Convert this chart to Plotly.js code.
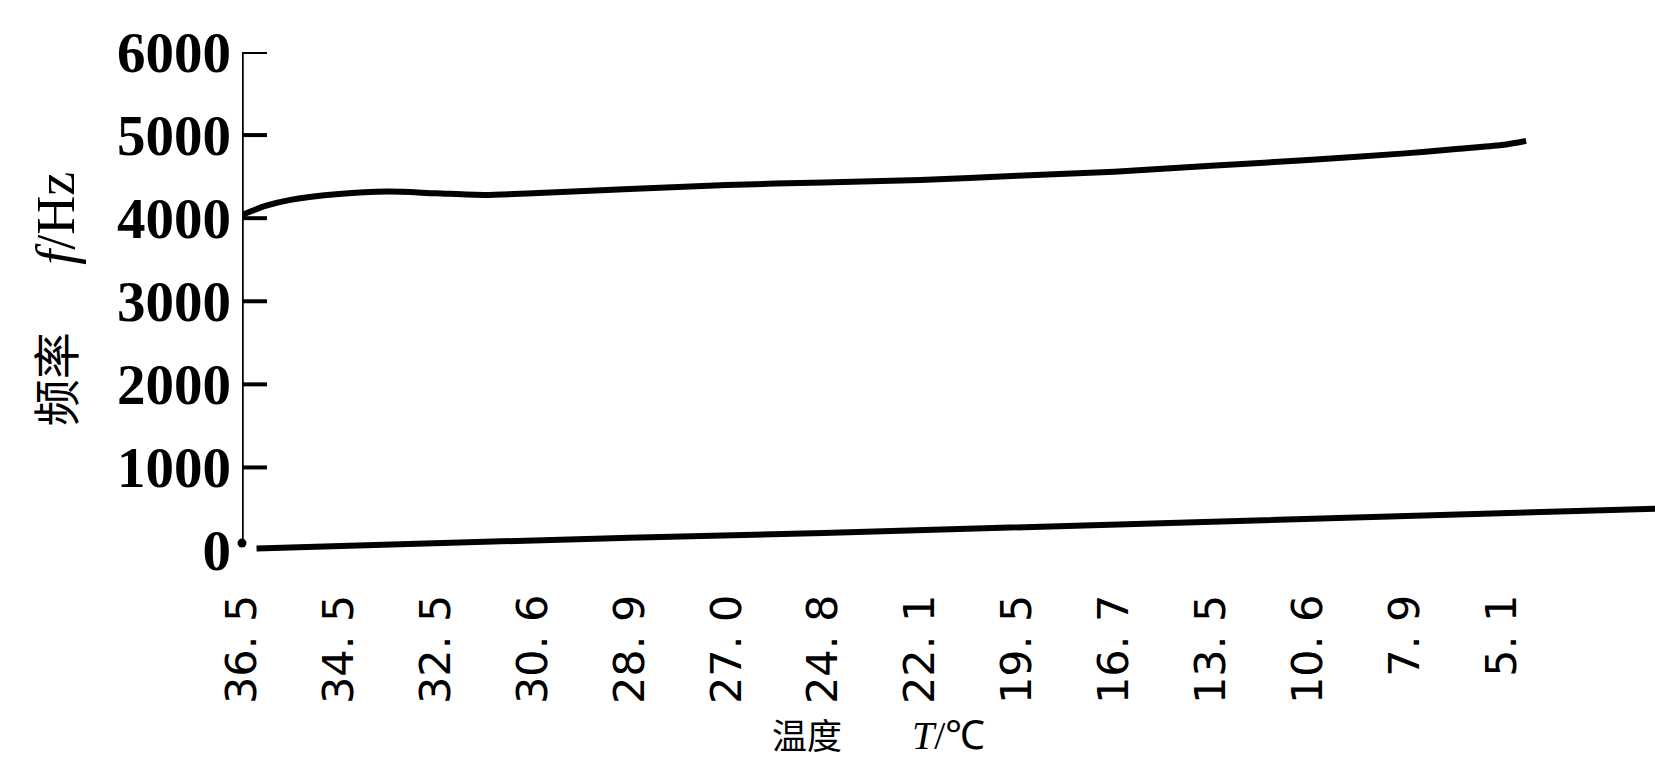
<!DOCTYPE html>
<html>
<head>
<meta charset="utf-8">
<script src="https://cdn.plot.ly/plotly-3.0.1.min.js"></script>
<style>
  html, body { margin: 0; padding: 0; background: #fff; }
  #chart { width: 1655px; height: 762px; }
</style>
</head>
<body>
<div id="chart"></div>
<script>
// Temperature tick labels (categorical sample positions along x)
const tempLabels = ["36. 5", "34. 5", "32. 5", "30. 6", "28. 9", "27. 0", "24. 8",
                    "22. 1", "19. 5", "16. 7", "13. 5", "10. 6", "7. 9", "5. 1"];
const tickPositions = [0, 1, 2, 3, 4, 5, 6, 7, 8, 9, 10, 11, 12, 13];

// Upper curve: frequency f (Hz) vs sample position
const upperX = [0, 0.25, 0.5, 1, 1.5, 2, 2.5, 3, 4, 5, 6, 7, 8, 9, 10, 11, 12, 12.5, 13, 13.25];
const upperY = [4040, 4150, 4220, 4290, 4320, 4300, 4280, 4300, 4350, 4400, 4430, 4460, 4510, 4560, 4630, 4700, 4780, 4830, 4880, 4930];

// Lower line
const lowerX = [0.15, 2, 4, 6, 8, 10, 12, 14.6];
const lowerY = [25, 95, 155, 210, 280, 360, 425, 505];

// Small dot at the foot of the y axis
const dotX = [0];
const dotY = [90];

// Y ticks
const yTickVals = [0, 1000, 2000, 3000, 4000, 5000, 6000];
const yTickText = ["0", "1000", "2000", "3000", "4000", "5000", "6000"];

const traces = [
  {
    x: upperX, y: upperY, type: 'scatter', mode: 'lines',
    line: { color: '#000', width: 6, shape: 'spline', smoothing: 0.8 },
    hoverinfo: 'skip', showlegend: false
  },
  {
    x: lowerX, y: lowerY, type: 'scatter', mode: 'lines',
    line: { color: '#000', width: 6 },
    hoverinfo: 'skip', showlegend: false
  },
  {
    x: dotX, y: dotY, type: 'scatter', mode: 'markers',
    marker: { color: '#000', size: 9 },
    hoverinfo: 'skip', showlegend: false, cliponaxis: false
  }
];

// Inward-pointing tick marks placed on the y scale (x span in axis units = 24 px)
const tickLenUnits = 25 / (1413 / 14.58);
const tickShapes = yTickVals.slice(1).map(v => ({
  type: 'line', xref: 'x', yref: 'y', layer: 'above',
  x0: 0, x1: tickLenUnits, y0: v, y1: v,
  line: { color: '#000', width: 4 }
}));

const layout = {
  width: 1655, height: 762,
  paper_bgcolor: '#fff', plot_bgcolor: '#fff',
  margin: { l: 242, r: 0, t: 52, b: 198.5, pad: 0 },
  showlegend: false,
  xaxis: {
    range: [0, 14.58],
    tickmode: 'array', tickvals: tickPositions, ticktext: tempLabels,
    tickangle: -90,
    ticks: '', showline: false, showgrid: false, zeroline: false,
    ticklabelstandoff: 22,
    tickfont: { family: 'DejaVu Sans', size: 43, color: '#000' },
    automargin: false, fixedrange: true
  },
  yaxis: {
    range: [-150, 6000],
    tickmode: 'array', tickvals: yTickVals, ticktext: yTickText,
    ticks: '', showline: false, showgrid: false, zeroline: false,
    ticklabelstandoff: 10,
    tickfont: { family: 'Liberation Serif', size: 57, color: '#000', weight: 'bold' },
    automargin: false, fixedrange: true
  },
  shapes: [
    { type: 'line', xref: 'x', yref: 'y', x0: 0, x1: 0, y0: 80, y1: 6000,
      line: { color: '#000', width: 3.5 } }
  ].concat(tickShapes),
  annotations: [
    {
      text: '温度　　<span style="font-family:Liberation Serif;font-size:40px"><i>T</i>/℃</span>',
      xref: 'paper', yref: 'paper', x: (878 - 242) / 1413, y: -0.333,
      xanchor: 'center', yanchor: 'middle', showarrow: false,
      font: { family: 'Noto Sans CJK SC', size: 35, color: '#000' }
    },
    {
      text: '频率<span style="font-family:Liberation Serif;font-size:54px">\u00a0\u00a0\u00a0\u00a0\u00a0<i>f</i>/Hz</span>',
      xref: 'paper', yref: 'paper', x: (53 - 242) / 1413, y: (563.5 - 299.5) / 511.5,
      xanchor: 'center', yanchor: 'middle', showarrow: false, textangle: -90,
      font: { family: 'Noto Sans CJK SC', size: 47, color: '#000' }
    }
  ]
};

Plotly.newPlot('chart', traces, layout, { staticPlot: true, displayModeBar: false });
</script>
</body>
</html>
